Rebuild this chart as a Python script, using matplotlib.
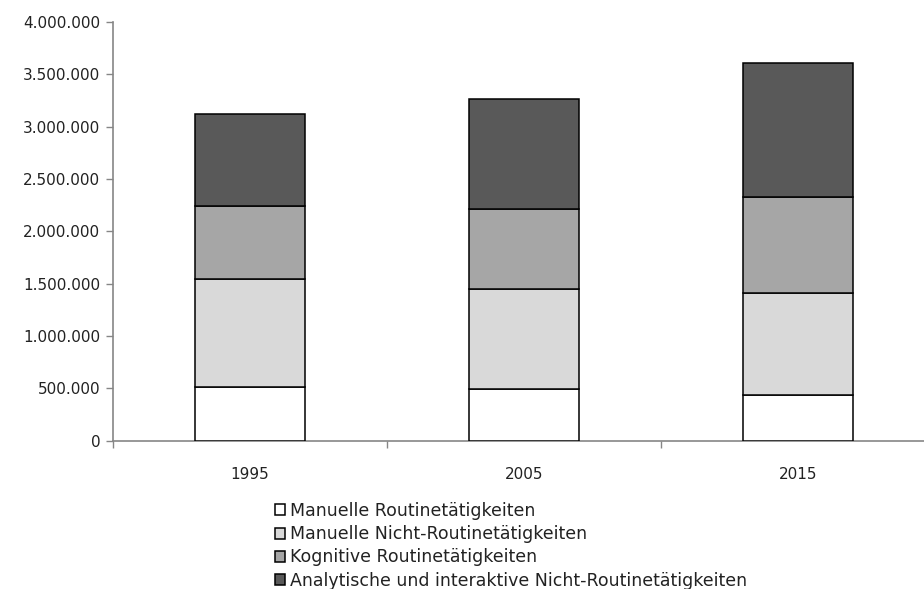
import matplotlib.pyplot as plt
import numpy as np
from matplotlib.ticker import FuncFormatter, FixedLocator

years = ["1995", "2005", "2015"]
series = [
    "Manuelle Routinetätigkeiten",
    "Manuelle Nicht-Routinetätigkeiten",
    "Kognitive Routinetätigkeiten",
    "Analytische und interaktive Nicht-Routinetätigkeiten",
]
manuell_routine = [513000, 497000, 437000]
manuell_nicht_routine = [1032000, 949000, 971000]
kognitiv_routine = [700000, 764000, 917000]
analytisch_interaktiv = [875000, 1053000, 1279000]
colors = ["#FFFFFF", "#D9D9D9", "#A6A6A6", "#595959"]

plt.rcParams["font.family"] = "DejaVu Sans"
fig = plt.figure(figsize=(9.24, 5.89), dpi=100)
ax = fig.add_axes([113 / 924, 1 - 440.7 / 589, 822 / 924, 418.7 / 589])

x = np.arange(len(years))
bottom = np.zeros(len(years))
for name, vals, c in zip(series, [manuell_routine, manuell_nicht_routine,
                                  kognitiv_routine, analytisch_interaktiv], colors):
    ax.bar(x, vals, 0.4, bottom=bottom, color=c, edgecolor="black",
           linewidth=1.1, label=name, zorder=3)
    bottom += np.array(vals)

ax.set_xlim(-0.5, 2.5)
ax.set_ylim(0, 4000000)
ax.set_yticks(np.arange(0, 4000001, 500000))
ax.yaxis.set_major_formatter(FuncFormatter(lambda v, p: f"{int(v):,}".replace(",", ".")))
ax.set_xticks(x)
ax.set_xticklabels(years)
ax.xaxis.set_minor_locator(FixedLocator([-0.5, 0.5, 1.5, 2.5]))
ax.tick_params(axis="x", which="major", length=0, pad=19, labelsize=11, colors="#222222")
ax.tick_params(axis="x", which="minor", length=5, width=1, color="#868686")
ax.tick_params(axis="y", length=5, width=1, color="#868686", labelsize=11,
               labelcolor="#222222", pad=4)

for s in ["top", "right"]:
    ax.spines[s].set_visible(False)
for s in ["left", "bottom"]:
    ax.spines[s].set_color("#868686")
    ax.spines[s].set_linewidth(1.2)

handles, labels = ax.get_legend_handles_labels()
fig.legend(handles, labels, loc="upper left", bbox_to_anchor=(275 / 924, 1 - 502 / 589),
           frameon=False, fontsize=12.5, handlelength=0.6, handleheight=0.6,
           handletextpad=0.25, labelspacing=0.3, borderpad=0, borderaxespad=0,
           labelcolor="#222222")

fig.savefig("out.png", dpi=100)
plt.close()
